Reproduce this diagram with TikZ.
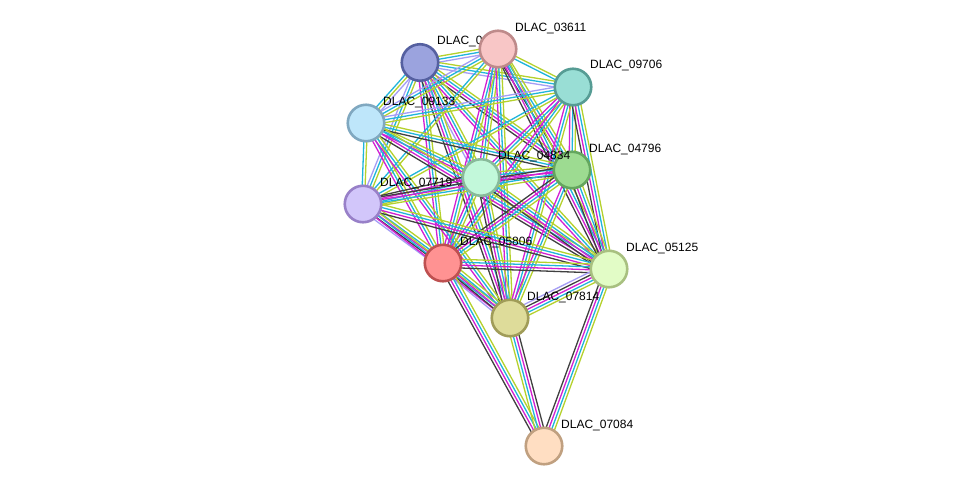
\documentclass[tikz,border=0pt]{standalone}
\usepackage{fontspec}
\setmainfont{Liberation Sans}
\usetikzlibrary{calc}
\pgfdeclarelayer{background}
\pgfsetlayers{background,main}
\definecolor{C}{HTML}{1FB5DB}
\definecolor{M}{HTML}{D21FD2}
\definecolor{Y}{HTML}{B5D12C}
\definecolor{K}{HTML}{404040}
\definecolor{P}{HTML}{A59DF5}
\newcommand\stredge[3]{%
  \foreach \c [count=\n] in {#3} {\xdef\nlines{\n}}%
  \foreach \c [count=\i] in {#3} {%
    \pgfmathsetmacro\off{(\i-(\nlines+1)/2)*2.9}%
    \draw[\c, line width=1.3pt] ($(#1)!\off pt!90:(#2)$) -- ($(#2)!\off pt!-90:(#1)$);
  }%
}
\tikzset{
  prot/.style={circle, minimum size=36.5pt, inner sep=0pt, line width=2.6pt},
  lbl/.style={anchor=west, inner sep=0pt, font=\fontsize{12}{14}\selectfont, text=black}
}
\begin{document}
\begin{tikzpicture}[x=1pt,y=-1pt]
\useasboundingbox (0,0) rectangle (976,491);
% nodes with labels (drawing order matters for overlaps)
\node[prot, fill={rgb,255:red,155;green,163;blue,222}, draw={rgb,255:red,85;green,96;blue,160}] (A) at (420,62.5) {};
\node[lbl] (lA) at ($(A)+(17,-21)$) {DLAC\_0};
\node[prot, fill={rgb,255:red,248;green,198;blue,198}, draw={rgb,255:red,190;green,138;blue,138}] (B) at (498,49) {};
\node[lbl] (lB) at ($(B)+(17,-21)$) {DLAC\_03611};
\node[prot, fill={rgb,255:red,153;green,222;blue,213}, draw={rgb,255:red,86;green,156;blue,148}] (C) at (573,87) {};
\node[lbl] (lC) at ($(C)+(17,-22)$) {DLAC\_09706};
\node[prot, fill={rgb,255:red,190;green,230;blue,250}, draw={rgb,255:red,128;green,168;blue,192}] (D) at (366,123) {};
\node[lbl] (lD) at ($(D)+(17,-21)$) {DLAC\_09133};
\node[prot, fill={rgb,255:red,157;green,219;blue,145}, draw={rgb,255:red,100;green,166;blue,94}] (F) at (572,170) {};
\node[lbl] (lF) at ($(F)+(17,-21)$) {DLAC\_04796};
\node[prot, fill={rgb,255:red,194;green,248;blue,218}, draw={rgb,255:red,136;green,186;blue,154}] (E) at (481,177.5) {};
\node[lbl] (lE) at ($(E)+(17,-21)$) {DLAC\_04834};
\node[prot, fill={rgb,255:red,210;green,198;blue,250}, draw={rgb,255:red,152;green,128;blue,200}] (G) at (363,204) {};
\node[lbl] (lG) at ($(G)+(17,-21)$) {DLAC\_07719};
\node[prot, fill={rgb,255:red,255;green,146;blue,146}, draw={rgb,255:red,190;green,80;blue,80}] (H) at (443,263) {};
\node[lbl] (lH) at ($(H)+(17,-21)$) {DLAC\_05806};
\node[prot, fill={rgb,255:red,226;green,252;blue,198}, draw={rgb,255:red,168;green,192;blue,128}] (I) at (609,269) {};
\node[lbl] (lI) at ($(I)+(17,-21)$) {DLAC\_05125};
\node[prot, fill={rgb,255:red,222;green,220;blue,154}, draw={rgb,255:red,160;green,156;blue,88}] (J) at (510,318) {};
\node[lbl] (lJ) at ($(J)+(17,-21)$) {DLAC\_07814};
\node[prot, fill={rgb,255:red,255;green,222;blue,194}, draw={rgb,255:red,192;green,160;blue,128}] (K) at (544,446) {};
\node[lbl] (lK) at ($(K)+(17,-21)$) {DLAC\_07084};
\begin{pgfonlayer}{background}
\fill[white] (0,0) rectangle (976,491);
\stredge{A}{B}{P,C,Y}
\stredge{A}{C}{P,C,Y}
\stredge{A}{D}{C,Y,P}
\stredge{A}{E}{P,M,C,Y}
\stredge{A}{F}{K,M,C,Y}
\stredge{A}{G}{P,C,Y}
\stredge{A}{H}{M,C,Y}
\stredge{A}{I}{M,C,Y}
\stredge{A}{J}{K,M,C,Y}
\stredge{B}{C}{C,Y}
\stredge{B}{D}{P,C,Y}
\stredge{B}{E}{M,C,Y}
\stredge{B}{F}{K,M,C,Y}
\stredge{B}{G}{C,Y}
\stredge{B}{H}{M,C,Y}
\stredge{B}{I}{K,M,C,Y}
\stredge{B}{J}{M,C,Y}
\stredge{C}{D}{P,C,Y}
\stredge{C}{E}{M,C,Y}
\stredge{C}{F}{M,C,Y}
\stredge{C}{G}{C,Y}
\stredge{C}{H}{M,C,Y}
\stredge{C}{I}{K,M,C,Y}
\stredge{C}{J}{M,C,Y}
\stredge{D}{E}{M,C,Y}
\stredge{D}{F}{K,C,Y}
\stredge{D}{G}{C,Y}
\stredge{D}{H}{M,C,Y}
\stredge{D}{I}{K,M,C,Y}
\stredge{D}{J}{M,C,Y}
\stredge{E}{F}{K,M,C,Y}
\stredge{E}{G}{K,M,C,Y}
\stredge{E}{H}{M,C,Y}
\stredge{E}{I}{K,M,C,Y}
\stredge{E}{J}{K,M,C,Y}
\stredge{F}{G}{K,M,C,Y}
\stredge{F}{H}{K,M,C,Y}
\stredge{F}{I}{K,M,C,Y}
\stredge{F}{J}{M,C,Y}
\stredge{G}{H}{P,K,M,C,Y}
\stredge{G}{I}{K,M,C,Y}
\stredge{G}{J}{M,C,Y}
\stredge{H}{I}{K,M,C,Y}
\stredge{H}{J}{P,K,M,C,Y}
\stredge{I}{J}{P,K,M,C,Y}
\stredge{H}{K}{K,M,C,Y}
\stredge{J}{K}{Y,C,M,K}
\stredge{I}{K}{K,M,C,Y}
\end{pgfonlayer}
\end{tikzpicture}
\end{document}
